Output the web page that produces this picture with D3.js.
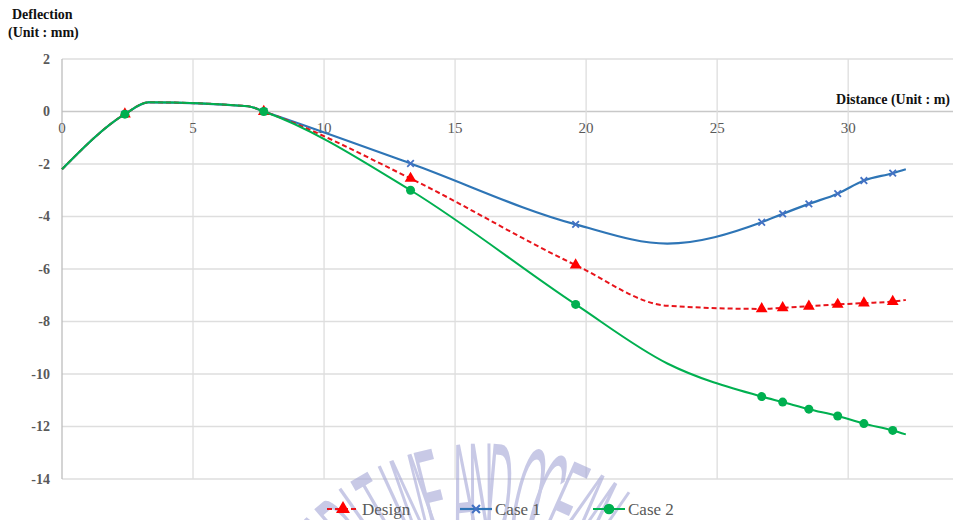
<!DOCTYPE html>
<html>
<head>
<meta charset="utf-8">
<script src="https://cdn.jsdelivr.net/npm/d3@7/dist/d3.min.js"></script>
<style>
  html, body { margin: 0; padding: 0; background: #fff; }
  svg { display: block; }
</style>
</head>
<body>
<svg id="chart" width="953" height="520"></svg>
<script>
// Measured deflection along the span (mm) at each station (m)
const distance = [0, 2.4, 3.3, 7.1, 7.7, 13.3, 19.6, 23.1, 26.7, 27.5, 28.5, 29.6, 30.6, 31.7, 32.2];
const design   = [-2.2, -0.1, 0.35, 0.2, 0, -2.55, -5.85, -7.4, -7.52, -7.48, -7.42, -7.35, -7.3, -7.24, -7.18];
const case1    = [-2.2, -0.1, 0.35, 0.2, 0, -1.98, -4.3, -5.03, -4.22, -3.9, -3.52, -3.13, -2.63, -2.35, -2.2];
const case2    = [-2.2, -0.1, 0.35, 0.2, 0, -3.0, -7.35, -9.6, -10.86, -11.07, -11.34, -11.6, -11.89, -12.15, -12.3];
// Stations that carry a marker
const marked   = [false, true, false, false, true, true, true, false, true, true, true, true, true, true, false];

const xTicks = [0, 5, 10, 15, 20, 25, 30];
const yTicks = [2, 0, -2, -4, -6, -8, -10, -12, -14];
const seriesNames = ["Design", "Case 1", "Case 2"];

const svg = d3.select("#chart");
const x = d3.scaleLinear().domain([0, 34]).range([62, 953]);
const y = d3.scaleLinear().domain([-14, 2]).range([479, 59]);

const serif = "'Liberation Serif', 'Times New Roman', serif";

// Grid
const grid = svg.append("g");
grid.selectAll("line.h").data(yTicks).join("line")
  .attr("x1", x(0)).attr("x2", x(34))
  .attr("y1", d => y(d)).attr("y2", d => y(d))
  .attr("stroke", d => d === 0 ? "#c8c8c8" : "#dedede").attr("stroke-width", 1.3);
grid.selectAll("line.v").data(xTicks.filter(d => d > 0)).join("line")
  .attr("x1", d => x(d)).attr("x2", d => x(d))
  .attr("y1", y(2)).attr("y2", y(-14))
  .attr("stroke", "#dedede").attr("stroke-width", 1.3);
grid.append("line")
  .attr("x1", x(0)).attr("x2", x(0)).attr("y1", y(2)).attr("y2", y(-14))
  .attr("stroke", "#bdbdbd").attr("stroke-width", 1.3);

// Institution seal lettering, arched across the lower edge
const seal = "MARITIME AND OCEAN";
const sealCx = 482, sealCy = 690, baseR = 150, unitDeg = 5.3;
const units = Array.from(seal).map(c => c === " " ? 0.6 : 1);
const centers = [];
let acc = 0;
units.forEach(u => { centers.push(acc + u / 2); acc += u; });
const dIndex = seal.indexOf("AND") + 2;
const wm = svg.append("g").attr("opacity", 0.6);
Array.from(seal).forEach((c, i) => {
  if (c === " ") return;
  const ang = (centers[i] - centers[dIndex]) * unitDeg + 5;
  wm.append("text")
    .attr("transform", `translate(${sealCx},${sealCy}) rotate(${ang}) translate(0,${-baseR}) scale(0.25,1)`)
    .attr("text-anchor", "middle")
    .attr("font-family", "'Liberation Sans', Arial, sans-serif")
    .style("font-size", "140px")
    .attr("fill", "#a4a6d6")
    .text(c);
});

// Y axis labels
svg.append("g").selectAll("text").data(yTicks).join("text")
  .attr("x", 50).attr("y", d => y(d)).attr("dy", "0.35em")
  .attr("text-anchor", "end")
  .attr("font-family", serif).attr("font-size", 14).attr("font-weight", "bold")
  .attr("fill", "#595959")
  .text(d => d);

// X axis labels (sit below the zero line)
svg.append("g").selectAll("text").data(xTicks).join("text")
  .attr("x", d => x(d)).attr("y", y(0) + 21)
  .attr("text-anchor", "middle")
  .attr("font-family", serif).attr("font-size", 15)
  .attr("fill", "#595959")
  .text(d => d);

// Axis titles
svg.append("text").attr("x", 12).attr("y", 19)
  .attr("font-family", serif).attr("font-size", 14).attr("font-weight", "bold")
  .attr("fill", "#111").text("Deflection");
svg.append("text").attr("x", 8).attr("y", 37)
  .attr("font-family", serif).attr("font-size", 14).attr("font-weight", "bold")
  .attr("fill", "#111").text("(Unit : mm)");
svg.append("text").attr("x", 950).attr("y", 104)
  .attr("text-anchor", "end")
  .attr("font-family", serif).attr("font-size", 14).attr("font-weight", "bold")
  .attr("fill", "#111").text("Distance (Unit : m)");

// Series
const line = d3.line().x(d => x(d[0])).y(d => y(d[1])).curve(d3.curveMonotoneX);
const pts = vals => distance.map((d, i) => [d, vals[i], marked[i]]);

const styles = {
  "Design": { vals: design, stroke: "#e8141b", width: 2, dash: "5,3", marker: "triangle" },
  "Case 1": { vals: case1, stroke: "#2e75b6", width: 2.2, dash: null, marker: "cross" },
  "Case 2": { vals: case2, stroke: "#00b050", width: 2, dash: null, marker: "circle" }
};

function drawMarker(g, type, cx, cy, s) {
  if (type === "triangle") {
    g.append("path").attr("d", d3.symbol(d3.symbolTriangle, 60 * s)())
      .attr("transform", `translate(${cx},${cy})`).attr("fill", "#ff0000");
  } else if (type === "cross") {
    g.append("path").attr("d", d3.symbol(d3.symbolX, 30 * s)())
      .attr("transform", `translate(${cx},${cy})`)
      .attr("stroke", "#4472c4").attr("stroke-width", 1.8 * Math.sqrt(s)).attr("fill", "none");
  } else {
    g.append("circle").attr("cx", cx).attr("cy", cy).attr("r", 4.5 * Math.sqrt(s))
      .attr("fill", "#00b050");
  }
}

// Draw order: Case 1, Design, Case 2 on top
["Case 1", "Design", "Case 2"].forEach(name => {
  const st = styles[name];
  const g = svg.append("g");
  g.append("path").datum(pts(st.vals))
    .attr("d", line).attr("fill", "none")
    .attr("stroke", st.stroke).attr("stroke-width", st.width)
    .attr("stroke-dasharray", st.dash);
  pts(st.vals).filter(p => p[2]).forEach(p => drawMarker(g, st.marker, x(p[0]), y(p[1]), 1));
});

// Legend
const legendPos = [{ name: "Design", x: 327 }, { name: "Case 1", x: 460 }, { name: "Case 2", x: 593 }];
const lg = svg.append("g");
legendPos.forEach(l => {
  const st = styles[l.name];
  const ly = 509;
  lg.append("line").attr("x1", l.x).attr("x2", l.x + 32).attr("y1", ly).attr("y2", ly)
    .attr("stroke", st.stroke).attr("stroke-width", st.width).attr("stroke-dasharray", st.dash);
  drawMarker(lg, st.marker, l.x + 16, ly, 1.4);
  lg.append("text").attr("x", l.x + 35).attr("y", ly).attr("dy", "0.35em")
    .attr("font-family", serif).attr("font-size", 17).attr("fill", "#595959")
    .text(l.name);
});
</script>
</body>
</html>
